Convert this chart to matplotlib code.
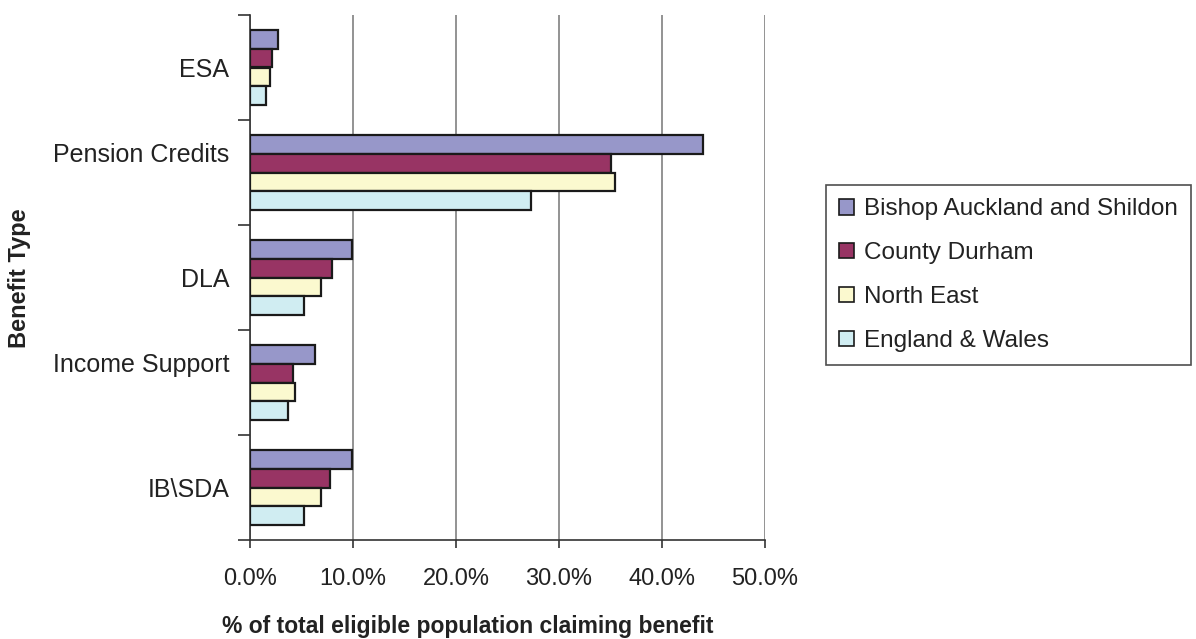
import numpy as np
import matplotlib.pyplot as plt
import matplotlib.transforms as mtransforms
from matplotlib.ticker import FixedLocator, FuncFormatter

categories = ["ESA", "Pension Credits", "DLA", "Income Support", "IB\\SDA"]
series_names = ["Bishop Auckland and Shildon", "County Durham", "North East", "England & Wales"]
bishop = [2.75, 44.0, 9.95, 6.35, 9.95]
durham = [2.15, 35.0, 8.0, 4.2, 7.8]
north_east = [1.95, 35.4, 6.85, 4.4, 6.85]
eng_wales = [1.55, 27.25, 5.2, 3.65, 5.2]
colors = ["#9797C9", "#983464", "#FBF9CF", "#D0EDF2"]
x_ticks = [0, 10, 20, 30, 40, 50]

fig = plt.figure(figsize=(11.96, 6.39), dpi=100)
ax = fig.add_axes([250 / 1196, 99 / 639, 515 / 1196, 525 / 639])

font = ["Liberation Sans", "DejaVu Sans"]
n = len(categories)
pos = np.arange(n)  # 0 = top category after inverting
bar_h = 0.178
all_series = [bishop, durham, north_east, eng_wales]
for i, (vals, col, name) in enumerate(zip(all_series, colors, series_names)):
    offs = (i - 1.5) * bar_h
    ax.barh(pos + offs, vals, height=bar_h, color=col, edgecolor="#1a1a1a",
            linewidth=1.6, label=name, zorder=3)

ax.set_ylim(n - 0.5, -0.5)
ax.set_xlim(0, 50)

# grid
ax.xaxis.set_major_locator(FixedLocator(x_ticks))
ax.xaxis.set_major_formatter(FuncFormatter(lambda v, p: f"{v:.1f}%"))
ax.grid(axis="x", color="#808080", linewidth=1.2, zorder=0)
ax.set_axisbelow(True)

for s in ["top", "right"]:
    ax.spines[s].set_visible(False)
for s in ["left", "bottom"]:
    ax.spines[s].set_color("#333333")
    ax.spines[s].set_linewidth(1.2)

# y ticks: labels at centres, tick marks at boundaries
ax.set_yticks(pos)
ax.set_yticklabels(categories, fontsize=18, family=font, color="#222222")
ax.tick_params(axis="y", which="major", length=0, pad=15)
ax.set_yticks(np.arange(n + 1) - 0.5, minor=True)
ax.tick_params(axis="y", which="minor", length=9, width=1.2, color="#333333", direction="out")
# excel lifts every other label a bit
lift = mtransforms.ScaledTranslation(0, 20 / 100, fig.dpi_scale_trans)
for k, lab in enumerate(ax.get_yticklabels()):
    if k % 2 == 1:
        lab.set_transform(lab.get_transform() + lift)

ax.tick_params(axis="x", length=6, width=1.2, color="#333333", pad=14)
for lab in ax.get_xticklabels():
    lab.set_fontsize(17)
    lab.set_family(font)
    lab.set_color("#222222")

ax.set_xlabel("% of total eligible population claiming benefit", fontsize=16.5,
              fontweight="bold", family=font, color="#222222")
ax.xaxis.label.set_va("center")
ax.xaxis.set_label_coords((468 - 250) / 515, (12 - 99) / 525)
fig.text(20 / 1196, 1 - 278 / 639, "Benefit Type", rotation=90, ha="center", va="center",
         fontsize=17, fontweight="bold", family=font, color="#222222")

leg = ax.legend(loc="upper left", bbox_to_anchor=(826 / 1196, 1 - 185 / 639),
                bbox_transform=fig.transFigure, frameon=True, fancybox=False,
                prop={"family": font, "size": 17.5},
                handlelength=0.6, handleheight=0.6, handletextpad=0.4,
                labelspacing=0.9, borderpad=0.55, borderaxespad=0)
leg.get_frame().set_edgecolor("#222222")
leg.get_frame().set_linewidth(1.2)
for t in leg.get_texts():
    t.set_color("#222222")
for h in leg.legend_handles:
    h.set_linewidth(1.2)

fig.savefig("out.png", dpi=100)
